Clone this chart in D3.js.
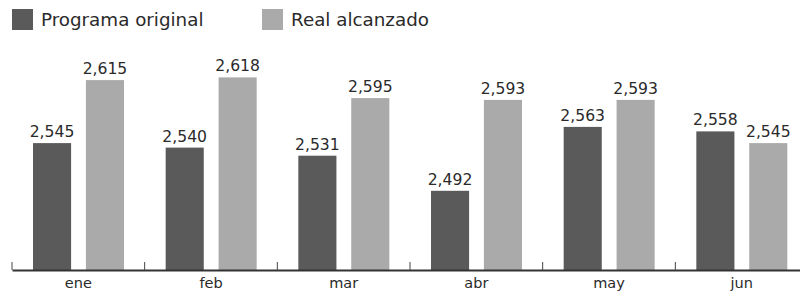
<!DOCTYPE html>
<html>
<head>
<meta charset="utf-8">
<script src="https://cdn.jsdelivr.net/npm/d3@7"></script>
<style>
  body { margin: 0; background: #fff; }
  svg text { font-family: "DejaVu Sans", sans-serif; fill: #2a2a2a; }
</style>
</head>
<body>
<div id="chart"></div>
<script>
var months = ["ene", "feb", "mar", "abr", "may", "jun"];
var seriesNames = ["Programa original", "Real alcanzado"];
var original = [2545, 2540, 2531, 2492, 2563, 2558];
var alcanzado = [2615, 2618, 2595, 2593, 2593, 2545];
var colors = ["#5a5a5a", "#aaaaaa"];

var svg = d3.select("#chart").append("svg").attr("width", 800).attr("height", 298);

var data = months.map(function (m, i) {
  return {month: m, values: [original[i], alcanzado[i]]};
});

var x = d3.scaleBand().domain(months).range([12, 808]);
var inner = d3.scaleBand().domain([0, 1]).range([21, 112]).paddingInner(0.28);
var y = d3.scaleLinear().domain([2404, 2650]).range([270, 48.6]);

// legend
var legend = svg.selectAll(".legend")
  .data(seriesNames)
  .enter().append("g")
  .attr("class", "legend")
  .attr("transform", function (d, i) { return "translate(" + (i === 0 ? 12 : 262) + ",9)"; });

legend.append("rect")
  .attr("width", 21)
  .attr("height", 21)
  .attr("fill", function (d, i) { return colors[i]; });

legend.append("text")
  .attr("x", 29)
  .attr("y", 17)
  .style("font-size", "18.3px")
  .text(function (d) { return d; });

// bars
var groups = svg.selectAll(".mes")
  .data(data)
  .enter().append("g")
  .attr("class", "mes")
  .attr("transform", function (d) { return "translate(" + x(d.month) + ",0)"; });

groups.selectAll("rect")
  .data(function (d) { return d.values; })
  .enter().append("rect")
  .attr("x", function (d, i) { return inner(i); })
  .attr("y", function (d) { return y(d); })
  .attr("width", inner.bandwidth())
  .attr("height", function (d) { return y.range()[0] - y(d); })
  .attr("fill", function (d, i) { return colors[i]; });

groups.selectAll(".valor")
  .data(function (d) { return d.values; })
  .enter().append("text")
  .attr("class", "valor")
  .attr("x", function (d, i) { return inner(i) + inner.bandwidth() / 2; })
  .attr("y", function (d) { return y(d) - 6; })
  .attr("text-anchor", "middle")
  .style("font-size", "15.6px")
  .text(function (d) { return d3.format(",")(d); });

// axis
var axis = svg.append("g")
  .attr("transform", "translate(0,270)")
  .call(d3.axisBottom(x).tickSize(0).tickPadding(8));
axis.select(".domain").attr("stroke", "#333").attr("stroke-width", 2);
axis.selectAll("text").style("font-size", "14.5px").attr("fill", "#2a2a2a");

// separator ticks between months
svg.selectAll(".sep")
  .data(months)
  .enter().append("line")
  .attr("class", "sep")
  .attr("x1", function (d) { return x(d); })
  .attr("x2", function (d) { return x(d); })
  .attr("y1", 262)
  .attr("y2", 270)
  .attr("stroke", "#444")
  .attr("stroke-width", 1);
</script>
</body>
</html>
